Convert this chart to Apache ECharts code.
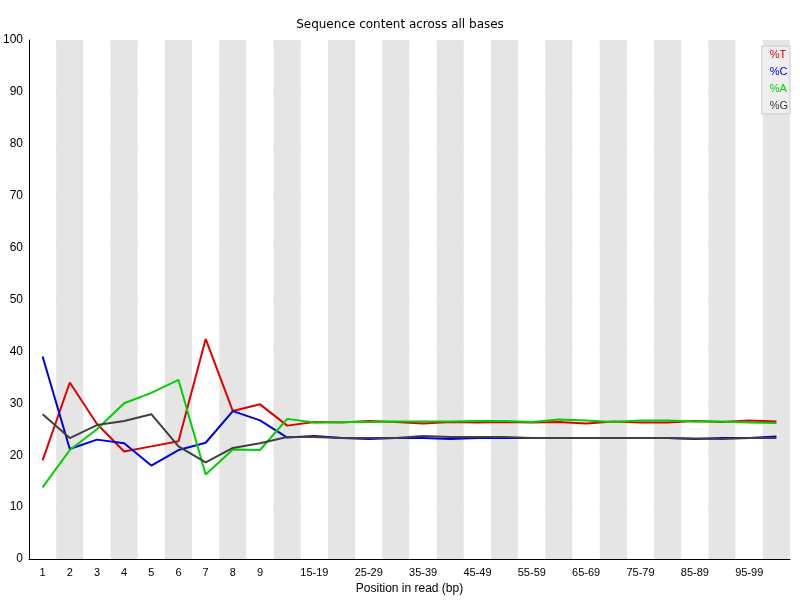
<!DOCTYPE html><html><head><meta charset="utf-8"><script src="https://cdn.jsdelivr.net/npm/echarts@6/dist/echarts.min.js"></script></head><body style="margin:0"><div id="c" style="width:800px;height:600px"></div><script>
const categories=['1','2','3','4','5','6','7','8','9','10-14','15-19','20-24','25-29','30-34','35-39','40-44','45-49','50-54','55-59','60-64','65-69','70-74','75-79','80-84','85-89','90-94','95-99','100-101'];
const T=[19,34,26,20.7,21.7,22.7,42.4,28.5,29.8,25.7,26.4,26.3,26.6,26.4,26.1,26.4,26.3,26.4,26.3,26.4,26.1,26.5,26.3,26.3,26.6,26.4,26.7,26.5];
const C=[39,21.2,23,22.3,18,21,22.4,28.5,26.7,23.4,23.7,23.3,23.1,23.3,23.3,23.1,23.3,23.3,23.3,23.3,23.3,23.3,23.3,23.3,23.1,23.3,23.3,23.6];
const A=[13.8,21,25,30,32,34.5,16.3,21.1,21,27,26.3,26.4,26.4,26.5,26.5,26.5,26.6,26.6,26.4,26.9,26.7,26.4,26.7,26.7,26.5,26.5,26.3,26.2];
const G=[27.9,23.3,25.8,26.6,27.9,21.7,18.6,21.4,22.3,23.5,23.5,23.3,23.3,23.3,23.7,23.5,23.5,23.5,23.3,23.3,23.3,23.3,23.3,23.3,23.2,23.1,23.3,23.3];
const names=['%T','%C','%A','%G'],cols=['#e00000','#0000e0','#00d000','#404040'],vals=[T,C,A,G];
const ch=echarts.init(document.getElementById('c'));
ch.setOption({animation:false,
title:{text:'Sequence content across all bases',left:'center',top:14,textStyle:{fontSize:12,fontWeight:'normal',color:'#000',fontFamily:'DejaVu Sans'}},
legend:{orient:'vertical',right:10,top:46,itemWidth:0,itemHeight:0,itemGap:6,backgroundColor:'#eee',borderColor:'#ccc',borderWidth:1,padding:[3,2],
 data:names.map((n,i)=>({name:n,textStyle:{color:cols[i],fontSize:11}}))},
grid:{left:29,right:10,top:40,bottom:38},
xAxis:{type:'category',data:categories,name:'Position in read (bp)',nameLocation:'middle',nameGap:24,nameTextStyle:{fontSize:12,color:'#000'},
 axisLine:{lineStyle:{color:'#000'}},axisTick:{show:false},
 axisLabel:{color:'#000',fontSize:11,interval:(i)=>i<9||(i-9)%2===1},
 splitArea:{show:true,interval:0,areaStyle:{color:['#ffffff','#e5e5e5']}},splitLine:{show:false}},
yAxis:{type:'value',min:0,max:100,interval:10,axisLine:{show:true,lineStyle:{color:'#000'}},axisTick:{show:false},
 axisLabel:{color:'#000',fontSize:12,margin:6},splitLine:{lineStyle:{color:'#aaa'}}},
series:vals.map((v,i)=>({name:names[i],type:'line',data:v,symbol:'none',lineStyle:{color:cols[i],width:2},itemStyle:{color:cols[i]}}))
});
</script></body></html>
